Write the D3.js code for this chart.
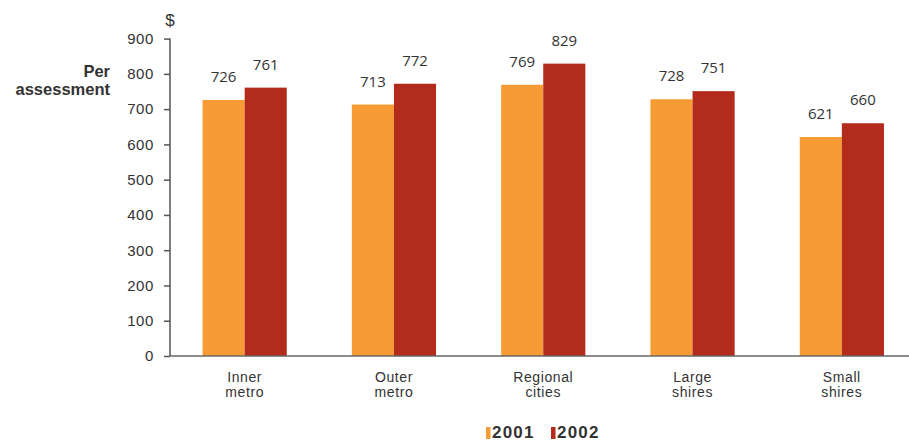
<!DOCTYPE html>
<html><head><meta charset="utf-8">
<script src="https://cdn.jsdelivr.net/npm/d3@7"></script>
<style>body{margin:0;background:#fff}svg{display:block}</style>
</head><body>
<svg id="c" width="909" height="441"></svg>
<script>
const categories = [["Inner","metro"],["Outer","metro"],["Regional","cities"],["Large","shires"],["Small","shires"]];
const seriesNames = ["2001","2002"];
const values2001 = [726, 713, 769, 728, 621];
const values2002 = [761, 772, 829, 751, 660];
const yTicks = [0,100,200,300,400,500,600,700,800,900];
const colors = ["#F79C34","#B22B1D"];

const svg = d3.select("#c");
const font = "'Liberation Sans', Arial, sans-serif";
const x0 = d3.scaleBand().domain(d3.range(categories.length)).range([170, 916.5]).paddingInner(0.436).paddingOuter(0.218);
const x1 = d3.scaleBand().domain(seriesNames).range([0, x0.bandwidth()]);
const y = d3.scaleLinear().domain([0, 900]).range([356, 38.6]);
const series = [values2001, values2002];

// bars
categories.forEach((c, i) => {
  seriesNames.forEach((s, j) => {
    const v = series[j][i];
    svg.append("rect").attr("x", x0(i) + x1(s)).attr("y", y(v))
      .attr("width", x1.bandwidth()).attr("height", y(0) - y(v)).attr("fill", colors[j]);
    svg.append("text").attr("x", x0(i) + x1(s) + x1.bandwidth()/2).attr("y", y(v) - 18)
      .attr("text-anchor", "middle").attr("font-family", "'Open Sans', sans-serif").attr("font-size", 15)
      .attr("fill", "#333").text(v);
  });
  c.forEach((l, k) => svg.append("text").attr("text-anchor", "middle").attr("font-family", font)
    .attr("font-size", 14).attr("letter-spacing", 0.6).attr("fill", "#333")
    .attr("x", x0(i) + x0.bandwidth()/2).attr("y", 381.5 + k*15.5).text(l));
});

// y axis
const ya = svg.append("g").attr("transform", "translate(170,0)")
  .call(d3.axisLeft(y).tickValues(yTicks).tickSize(6).tickPadding(10));
ya.select(".domain").attr("stroke", "#555").attr("stroke-width", 1.5).attr("d", `M0,${y(900)}V${y(0)}`);
ya.selectAll(".tick line").attr("stroke", "#555").attr("stroke-width", 1.5);
ya.selectAll(".tick text").attr("font-family", font).attr("font-size", 15).attr("letter-spacing", 0.6).attr("fill", "#333");

// x axis baseline
svg.append("line").attr("x1", 169.25).attr("x2", 909).attr("y1", 356).attr("y2", 356)
  .attr("stroke", "#666").attr("stroke-width", 1.5);

// titles
svg.append("text").attr("x", 170).attr("y", 26).attr("text-anchor", "middle").attr("font-family", font)
  .attr("font-size", 17).attr("fill", "#333").text("$");
const yl = svg.append("text").attr("text-anchor", "end").attr("font-family", font)
  .attr("font-size", 16.5).attr("font-weight", "bold").attr("fill", "#333");
yl.append("tspan").attr("x", 110).attr("y", 77).text("Per");
yl.append("tspan").attr("x", 110).attr("y", 95).text("assessment");

// legend
const lx = [486, 551];
seriesNames.forEach((s, j) => {
  svg.append("rect").attr("x", lx[j]).attr("y", 427).attr("width", 4.5).attr("height", 12).attr("fill", colors[j]);
  svg.append("text").attr("x", lx[j] + 6).attr("y", 438).attr("font-family", font).attr("font-size", 17)
    .attr("letter-spacing", 1.2).attr("font-weight", "bold").attr("fill", "#333").text(s);
});
</script>
</body></html>
